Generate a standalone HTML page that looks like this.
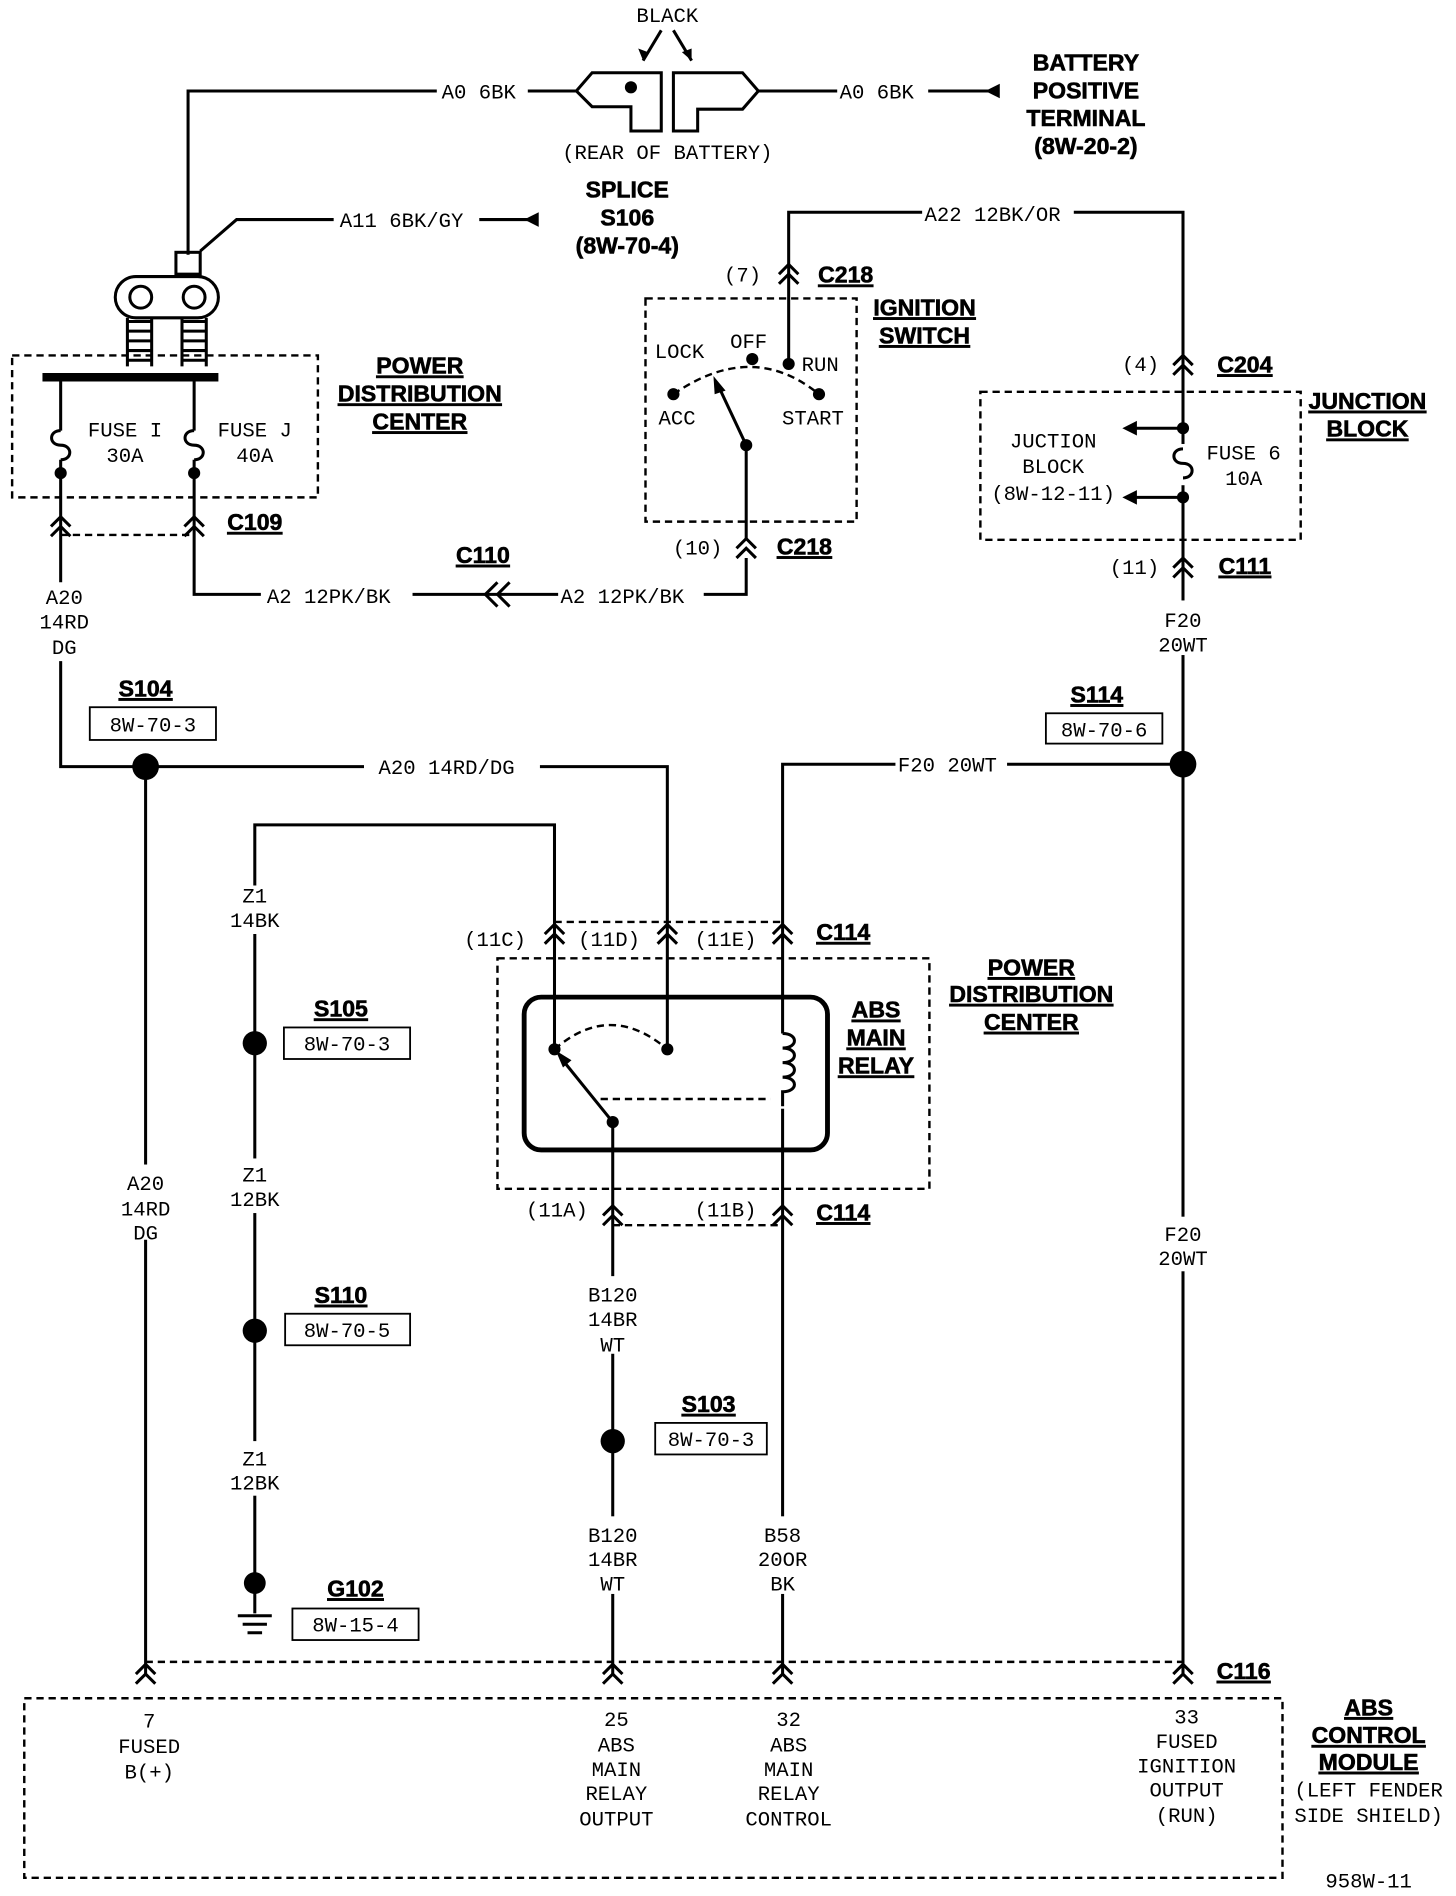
<!DOCTYPE html>
<html><head><meta charset="utf-8"><style>
html,body{margin:0;padding:0;background:#fff;}
svg{display:block}
text{font-family:"Liberation Mono",monospace;font-size:17px;fill:#000;}
.c{text-anchor:middle}
.b{font-family:"Liberation Sans",sans-serif;font-weight:bold;font-size:19px;text-decoration:underline;text-anchor:middle;stroke:#000;stroke-width:0.5}
.bn{font-family:"Liberation Sans",sans-serif;font-weight:bold;font-size:19px;text-anchor:middle;stroke:#000;stroke-width:0.5}
.w{stroke:#000;stroke-width:2.5;fill:none}
.d{stroke:#000;stroke-width:2;fill:none;stroke-dasharray:6,4}
</style></head><body>
<svg width="1456" height="1896" viewBox="0 0 1200 1563" preserveAspectRatio="none" xmlns="http://www.w3.org/2000/svg">
<defs>
<g id="cn"><path d="M-8,2 L0,-6 L8,2 M-8,10 L0,2 L8,10" stroke="#000" stroke-width="2.5" fill="none"/></g>
<g id="fuse"><path d="M0,0 C-10,0 -10,12 0,12 C10,12 10,24 0,24" stroke="#000" stroke-width="2.5" fill="none"/></g>
</defs>
<text class="c" x="550" y="18">BLACK</text>
<path class="w" d="M545,25 L530,50 M555,25 L570,50"/>
<path d="M530,50 l-4,-10 l8,3z M570,50 l-8,-7 l8,-3z" fill="#000"/>
<path class="w" d="M155,210 L155,75 L360,75 M435,75 L475,75 M625,75 L690,75 M765,75 L820,75"/>
<path d="M812,75 l12,-6 l0,12z" fill="#000"/>
<text x="364" y="81">A0 6BK</text><text x="692" y="81">A0 6BK</text>
<path class="w" d="M475,75 L488,60 L545,60 L545,108 L520,108 L520,88 L488,88 Z"/>
<circle cx="520" cy="72" r="5" fill="#000"/>
<path class="w" d="M555,60 L612,60 L625,75 L612,90 L575,90 L575,108 L555,108 Z"/>
<text class="c" x="550" y="131">(REAR OF BATTERY)</text>
<text class="bn" x="895" y="58">BATTERY</text><text class="bn" x="895" y="81">POSITIVE</text><text class="bn" x="895" y="104">TERMINAL</text><text class="bn" x="895" y="127">(8W-20-2)</text>
<path class="w" d="M165,207 L195,181 L275,181 M395,181 L440,181"/>
<path d="M432,181 l12,-6 l0,12z" fill="#000"/>
<text x="280" y="187">A11 6BK/GY</text>
<text class="bn" x="517" y="163">SPLICE</text><text class="bn" x="517" y="186">S106</text><text class="bn" x="517" y="209">(8W-70-4)</text>
<rect x="145" y="208" width="20" height="18" class="w"/>
<rect x="95" y="228" width="85" height="34" rx="17" class="w"/>
<circle cx="116" cy="245" r="9" class="w"/><circle cx="160" cy="245" r="9" class="w"/>
<g class="w"><path d="M105,265 h20 M105,273 h20 M105,281 h20 M105,289 h20 M105,297 h20 M150,265 h20 M150,273 h20 M150,281 h20 M150,289 h20 M150,297 h20 M105,262 v40 M125,262 v40 M150,262 v40 M170,262 v40"/></g>
<rect x="10" y="293" width="252" height="117" class="d"/>
<line x1="35" y1="311" x2="180" y2="311" stroke="#000" stroke-width="7"/>
<path class="w" d="M50,311 L50,355 M50,379 L50,480 M160,311 L160,355 M160,379 L160,490 L215,490"/>
<use href="#fuse" x="50" y="355"/><use href="#fuse" x="160" y="355"/>
<circle cx="50" cy="390" r="5" fill="#000"/><circle cx="160" cy="390" r="5" fill="#000"/>
<text class="c" x="103" y="360">FUSE I</text><text class="c" x="103" y="381">30A</text>
<text class="c" x="210" y="360">FUSE J</text><text class="c" x="210" y="381">40A</text>
<text class="b" x="346" y="308">POWER</text><text class="b" x="346" y="331">DISTRIBUTION</text><text class="b" x="346" y="354">CENTER</text>
<use href="#cn" x="50" y="432"/><use href="#cn" x="160" y="432"/>
<line x1="50" y1="441" x2="160" y2="441" class="d"/>
<text class="b" x="210" y="437">C109</text>
<text class="c" x="53" y="498">A20</text><text class="c" x="53" y="518">14RD</text><text class="c" x="53" y="539">DG</text>
<path class="w" d="M50,545 L50,632 L300,632 M445,632 L550,632 L550,865"/>
<text x="220" y="497">A2 12PK/BK</text>
<path class="w" d="M340,490 L460,490 M580,490 L615,490 L615,460"/>
<path class="w" d="M410,480 L400,490 L410,500 M420,480 L410,490 L420,500"/>
<text class="b" x="398" y="464">C110</text>
<text x="462" y="497">A2 12PK/BK</text>
<rect x="532" y="246" width="174" height="184" class="d"/>
<path class="w" d="M650,300 L650,175 L760,175 M885,175 L975,175 L975,1380"/>
<text x="762" y="182">A22 12BK/OR</text>
<use href="#cn" x="650" y="224"/><text class="c" x="612" y="232">(7)</text><text class="b" x="697" y="233">C218</text>
<text class="b" x="762" y="260">IGNITION</text><text class="b" x="762" y="283">SWITCH</text>
<path d="M555,325 Q620,280 675,325" class="d"/>
<circle cx="555" cy="325" r="5" fill="#000"/><circle cx="620" cy="296" r="5" fill="#000"/><circle cx="650" cy="300" r="5" fill="#000"/><circle cx="675" cy="325" r="5" fill="#000"/>
<path class="w" d="M615,367 L592,318"/><path d="M588,310 l10,12 l-9,3z" fill="#000"/>
<circle cx="615" cy="367" r="5" fill="#000"/>
<path class="w" d="M615,367 L615,445"/>
<text class="c" x="560" y="295">LOCK</text><text class="c" x="617" y="287">OFF</text><text class="c" x="676" y="306">RUN</text>
<text class="c" x="558" y="350">ACC</text><text class="c" x="670" y="350">START</text>
<use href="#cn" x="615" y="450"/><text class="c" x="575" y="457">(10)</text><text class="b" x="663" y="457">C218</text>
<use href="#cn" x="975" y="299"/><text class="c" x="940" y="306">(4)</text><text class="b" x="1026" y="307">C204</text>
<rect x="808" y="323" width="264" height="122" class="d"/>
<circle cx="975" cy="353" r="5" fill="#000"/><circle cx="975" cy="410" r="5" fill="#000"/>
<line x1="975" y1="353" x2="935" y2="353" class="w"/><path d="M925,353 l12,-6 l0,12z" fill="#000"/>
<line x1="975" y1="410" x2="935" y2="410" class="w"/><path d="M925,410 l12,-6 l0,12z" fill="#000"/>
<rect x="965" y="366" width="20" height="34" fill="#fff"/><use href="#fuse" x="975" y="370"/>
<text class="c" x="868" y="369">JUCTION</text><text class="c" x="868" y="390">BLOCK</text><text class="c" x="868" y="412">(8W-12-11)</text>
<text class="c" x="1025" y="379">FUSE 6</text><text class="c" x="1025" y="400">10A</text>
<text class="b" x="1127" y="337">JUNCTION</text><text class="b" x="1127" y="360">BLOCK</text>
<use href="#cn" x="975" y="466"/><text class="c" x="935" y="473">(11)</text><text class="b" x="1026" y="473">C111</text>
<rect x="955" y="495" width="40" height="45" fill="#fff"/>
<text class="c" x="975" y="517">F20</text><text class="c" x="975" y="537">20WT</text>
<text class="b" x="904" y="579">S114</text><rect x="862" y="588" width="96" height="25" fill="#fff" stroke="#000" stroke-width="1.5"/><text class="c" x="910" y="607">8W-70-6</text>
<circle cx="975" cy="630" r="11" fill="#000"/>
<path class="w" d="M975,630 L830,630 M738,630 L645,630 L645,1380"/>
<text x="740" y="636">F20 20WT</text>
<rect x="955" y="1003" width="40" height="45" fill="#fff"/>
<text class="c" x="975" y="1023">F20</text><text class="c" x="975" y="1043">20WT</text>
<text class="b" x="120" y="574">S104</text><rect x="74" y="583" width="104" height="27" fill="#fff" stroke="#000" stroke-width="1.5"/><text class="c" x="126" y="603">8W-70-3</text>
<circle cx="120" cy="632" r="11" fill="#000"/>
<text x="312" y="638">A20 14RD/DG</text>
<path class="w" d="M120,632 L120,1380"/>
<rect x="100" y="960" width="40" height="62" fill="#fff"/>
<text class="c" x="120" y="981">A20</text><text class="c" x="120" y="1002">14RD</text><text class="c" x="120" y="1022">DG</text>
<path class="w" d="M210,730 L210,680 L457,680 L457,865 M210,770 L210,1305"/>
<text class="c" x="210" y="744">Z1</text><text class="c" x="210" y="764">14BK</text>
<circle cx="210" cy="860" r="10" fill="#000"/><circle cx="210" cy="1097" r="10" fill="#000"/><circle cx="210" cy="1305" r="9" fill="#000"/>
<rect x="195" y="955" width="30" height="45" fill="#fff"/><rect x="195" y="1188" width="30" height="45" fill="#fff"/>
<text class="c" x="210" y="974">Z1</text><text class="c" x="210" y="994">12BK</text>
<text class="c" x="210" y="1208">Z1</text><text class="c" x="210" y="1228">12BK</text>
<text class="b" x="281" y="838">S105</text><rect x="234" y="847" width="104" height="26" fill="#fff" stroke="#000" stroke-width="1.5"/><text class="c" x="286" y="866">8W-70-3</text>
<text class="b" x="281" y="1074">S110</text><rect x="235" y="1083" width="103" height="26" fill="#fff" stroke="#000" stroke-width="1.5"/><text class="c" x="286" y="1102">8W-70-5</text>
<text class="b" x="293" y="1316">G102</text><rect x="241" y="1326" width="104" height="26" fill="#fff" stroke="#000" stroke-width="1.5"/><text class="c" x="293" y="1345">8W-15-4</text>
<path class="w" d="M210,1305 L210,1330 M196,1332 h28 M200,1339 h20 M204,1346 h12"/>
<use href="#cn" x="457" y="768"/><use href="#cn" x="550" y="768"/><use href="#cn" x="645" y="768"/>
<line x1="457" y1="760" x2="645" y2="760" class="d"/>
<text class="c" x="408" y="780">(11C)</text><text class="c" x="502" y="780">(11D)</text><text class="c" x="598" y="780">(11E)</text><text class="b" x="695" y="775">C114</text>
<rect x="410" y="790" width="356" height="190" class="d"/>
<rect x="432" y="822" width="250" height="126" rx="14" fill="none" stroke="#000" stroke-width="4"/>
<path d="M457,865 Q503,825 550,865" class="d"/>
<circle cx="457" cy="865" r="5" fill="#000"/><circle cx="550" cy="865" r="5" fill="#000"/>
<path class="w" d="M505,925 L463,873"/><path d="M458,866 l13,8 l-7,6z" fill="#000"/>
<circle cx="505" cy="925" r="5" fill="#000"/>
<line x1="495" y1="906" x2="640" y2="906" class="d" stroke-width="1.5"/>
<rect x="635" y="852" width="20" height="62" fill="#fff"/>
<path class="w" d="M645,852 C658,852 658,864 645,864 C658,864 658,876 645,876 C658,876 658,888 645,888 C658,888 658,900 645,900 L645,912"/>
<text class="b" x="722" y="839">ABS</text><text class="b" x="722" y="862">MAIN</text><text class="b" x="722" y="885">RELAY</text>
<text class="b" x="850" y="804">POWER</text><text class="b" x="850" y="826">DISTRIBUTION</text><text class="b" x="850" y="849">CENTER</text>
<path class="w" d="M505,925 L505,1380"/>
<use href="#cn" x="505" y="1000"/><use href="#cn" x="645" y="1000"/>
<line x1="505" y1="1010" x2="645" y2="1010" class="d"/>
<text class="c" x="459" y="1003">(11A)</text><text class="c" x="598" y="1003">(11B)</text><text class="b" x="695" y="1006">C114</text>
<rect x="480" y="1052" width="50" height="64" fill="#fff"/>
<text class="c" x="505" y="1073">B120</text><text class="c" x="505" y="1093">14BR</text><text class="c" x="505" y="1114">WT</text>
<circle cx="505" cy="1188" r="10" fill="#000"/>
<text class="b" x="584" y="1164">S103</text><rect x="540" y="1173" width="92" height="26" fill="#fff" stroke="#000" stroke-width="1.5"/><text class="c" x="586" y="1192">8W-70-3</text>
<rect x="480" y="1250" width="50" height="64" fill="#fff"/><rect x="620" y="1250" width="50" height="64" fill="#fff"/>
<text class="c" x="505" y="1271">B120</text><text class="c" x="505" y="1291">14BR</text><text class="c" x="505" y="1311">WT</text>
<text class="c" x="645" y="1271">B58</text><text class="c" x="645" y="1291">20OR</text><text class="c" x="645" y="1311">BK</text>
<line x1="120" y1="1370" x2="975" y2="1370" class="d"/>
<use href="#cn" x="120" y="1378"/><use href="#cn" x="505" y="1378"/><use href="#cn" x="645" y="1378"/><use href="#cn" x="975" y="1378"/>
<text class="b" x="1025" y="1384">C116</text>
<rect x="20" y="1400" width="1037" height="148" class="d"/>
<text class="c" x="123" y="1424">7</text><text class="c" x="123" y="1445">FUSED</text><text class="c" x="123" y="1466">B(+)</text>
<text class="c" x="508" y="1423">25</text><text class="c" x="508" y="1444">ABS</text><text class="c" x="508" y="1464">MAIN</text><text class="c" x="508" y="1484">RELAY</text><text class="c" x="508" y="1505">OUTPUT</text>
<text class="c" x="650" y="1423">32</text><text class="c" x="650" y="1444">ABS</text><text class="c" x="650" y="1464">MAIN</text><text class="c" x="650" y="1484">RELAY</text><text class="c" x="650" y="1505">CONTROL</text>
<text class="c" x="978" y="1421">33</text><text class="c" x="978" y="1441">FUSED</text><text class="c" x="978" y="1461">IGNITION</text><text class="c" x="978" y="1481">OUTPUT</text><text class="c" x="978" y="1502">(RUN)</text>
<text class="b" x="1128" y="1414">ABS</text><text class="b" x="1128" y="1437">CONTROL</text><text class="b" x="1128" y="1459">MODULE</text>
<text class="c" x="1128" y="1481">(LEFT FENDER</text><text class="c" x="1128" y="1502">SIDE SHIELD)</text>
<text class="c" x="1128" y="1556">958W-11</text>
</svg>
</body></html>
